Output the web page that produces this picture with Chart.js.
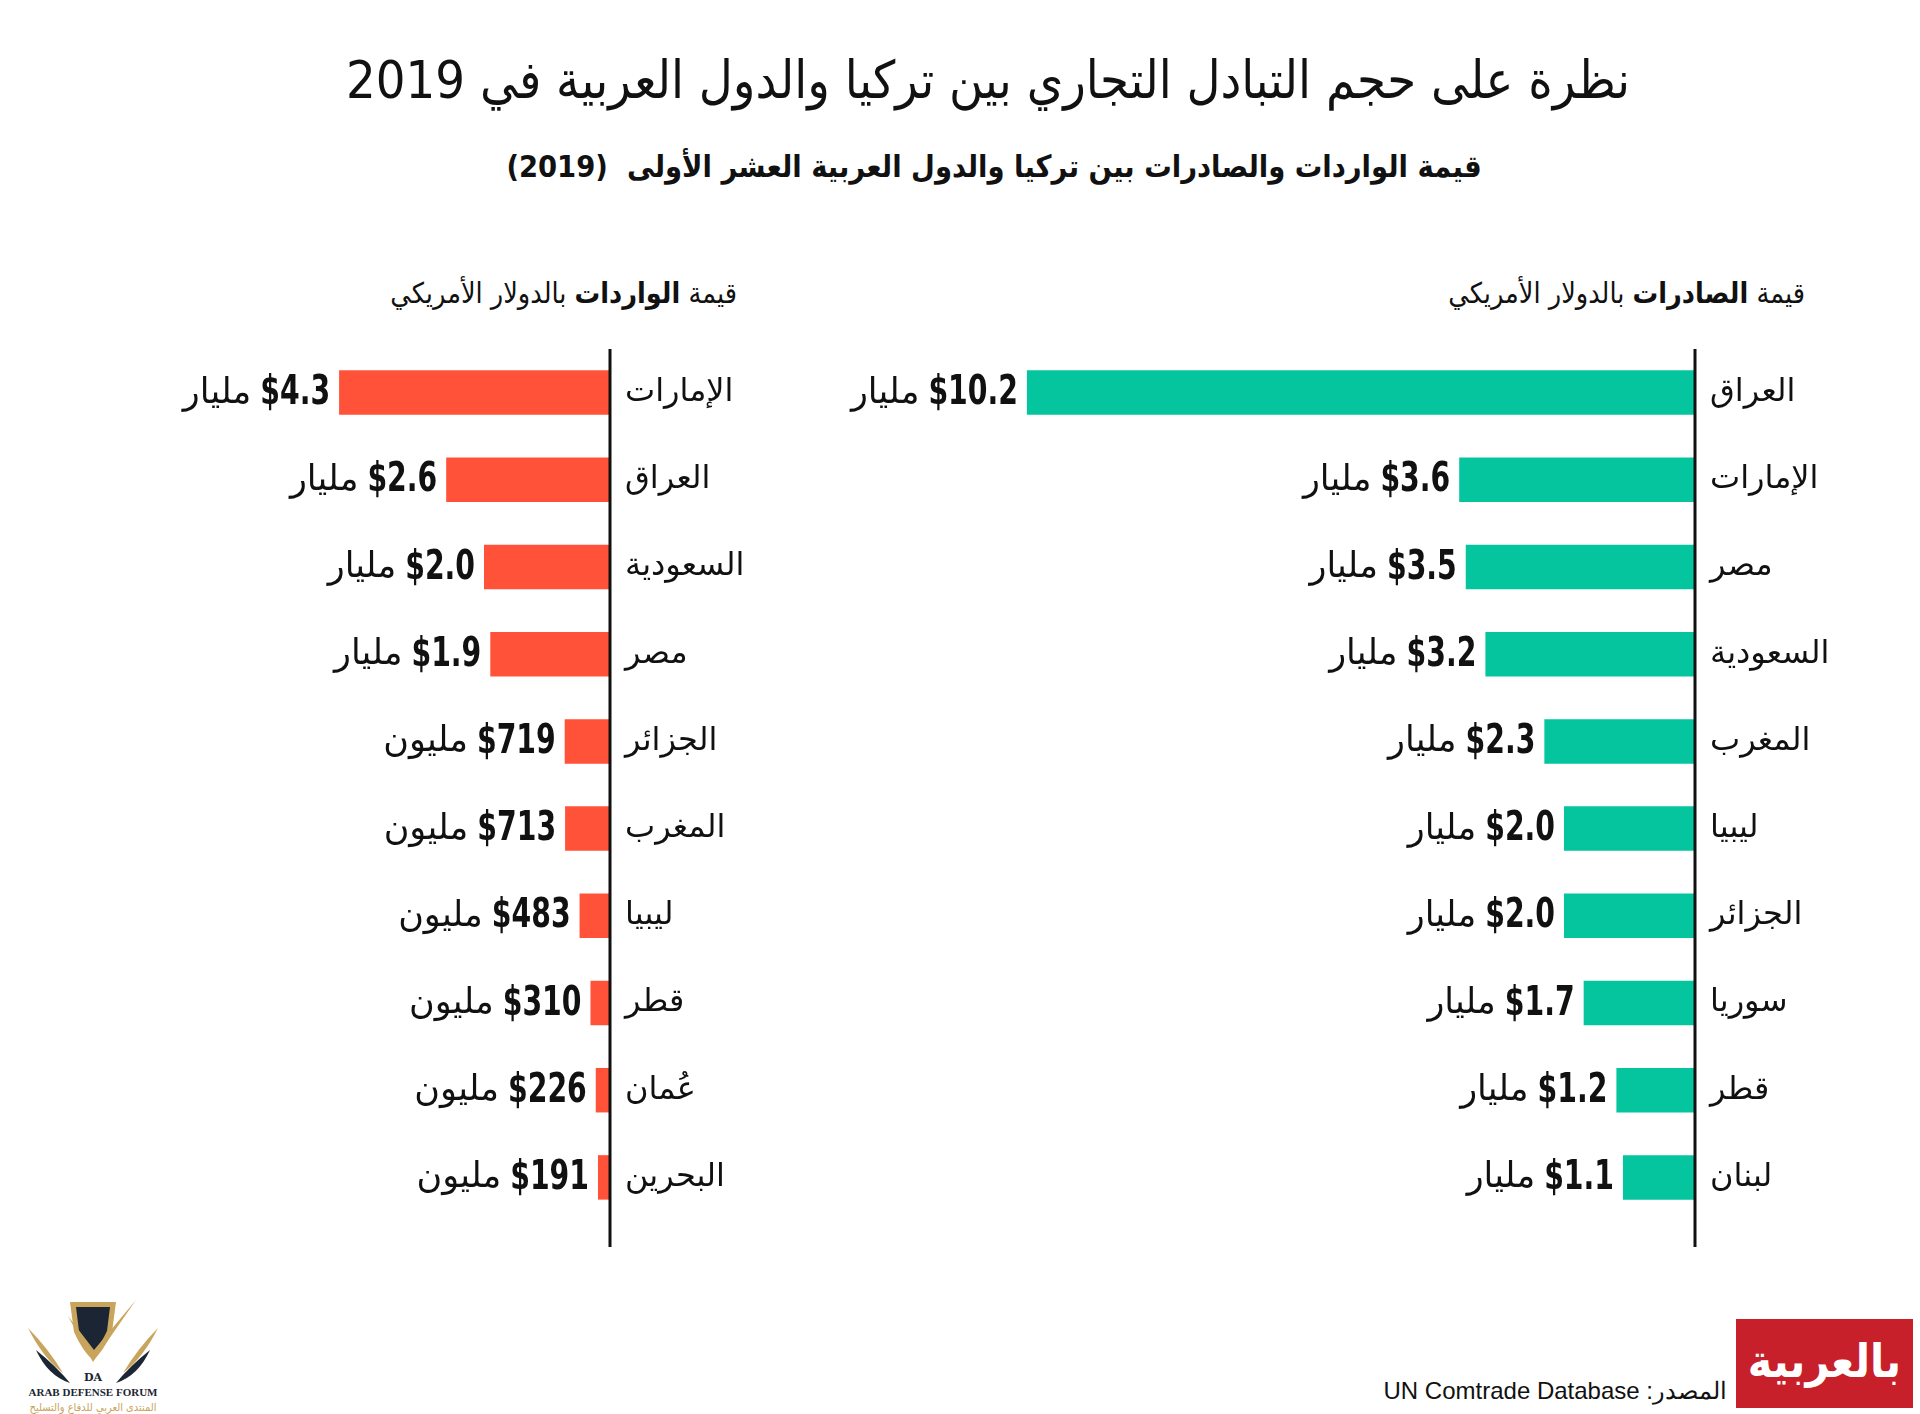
<!DOCTYPE html>
<html lang="ar">
<head>
<meta charset="utf-8">
<title>التبادل التجاري بين تركيا والدول العربية 2019</title>
<script src="https://cdn.jsdelivr.net/npm/chart.js@4.4.1/dist/chart.umd.min.js"></script>
<style>
  html, body { margin: 0; padding: 0; background: #fff; }
  body { width: 1920px; height: 1414px; position: relative; overflow: hidden;
         font-family: "DejaVu Sans", sans-serif; color: #111; }
  .abs { position: absolute; white-space: nowrap; }
  .title { left: 0; width: 1976px; top: 44px; height: 72px; line-height: 72px; text-align: center;
           font-family: "DejaVu Sans Condensed", "DejaVu Sans", sans-serif; font-size: 52px; }
  .subtitle { left: 0; width: 1988px; top: 147px; height: 40px; line-height: 40px; text-align: center;
              font-family: "DejaVu Sans Condensed", "DejaVu Sans", sans-serif; font-size: 30.5px; font-weight: bold; }
  .head { top: 276px; height: 36px; line-height: 36px; text-align: right;
          font-family: "DejaVu Sans Condensed", "DejaVu Sans", sans-serif; font-size: 28.5px; }
  .head b { font-weight: bold; }
  canvas { position: absolute; }
  .source { right: 193px; top: 1376px; height: 30px; line-height: 30px;
            font-family: "Liberation Sans", Arial, sans-serif; font-size: 24px; }
  .cnn { left: 1736px; top: 1319px; width: 177px; height: 89px; background: #c8202a;
         color: #fff; font-size: 46px; font-weight: bold; text-align: center; line-height: 84px;
         font-family: "DejaVu Sans Condensed", "DejaVu Sans", sans-serif; }
</style>
</head>
<body>

<div class="abs title" dir="rtl">نظرة على حجم التبادل التجاري بين تركيا والدول العربية في 2019</div>
<div class="abs subtitle" dir="rtl">قيمة الواردات والصادرات بين تركيا والدول العربية العشر الأولى&nbsp;&nbsp;(2019)</div>

<div class="abs head" dir="rtl" style="right: 1183px;">قيمة <b>الواردات</b> بالدولار الأمريكي</div>
<div class="abs head" dir="rtl" style="right: 115px;">قيمة <b>الصادرات</b> بالدولار الأمريكي</div>

<canvas id="importsChart" width="800" height="920" style="left:0; top:340px;"></canvas>
<canvas id="exportsChart" width="1120" height="920" style="left:800px; top:340px;"></canvas>

<svg class="abs" style="left:8px; top:1288px;" width="170" height="126" viewBox="0 0 170 126">
  <path d="M20 40 Q40 60 55 85 Q35 70 20 40 Z" fill="#c9a45c"/>
  <path d="M150 40 Q130 60 115 85 Q135 70 150 40 Z" fill="#c9a45c"/>
  <path d="M28 62 Q48 78 62 95 Q40 88 28 62 Z" fill="#1c2533"/>
  <path d="M142 62 Q122 78 108 95 Q130 88 142 62 Z" fill="#1c2533"/>
  <path d="M62 14 L108 14 L104 44 Q95 64 85 72 Q75 64 66 44 Z" fill="#c9a45c"/>
  <path d="M68 19 L102 19 L99 43 Q92 58 85 64 Q78 58 71 43 Z" fill="#1c2533"/>
  <path d="M60 28 L85 74 L128 12 L86 62 Z" fill="#c9a45c"/>
  <text x="85" y="93" text-anchor="middle" font-family="DejaVu Serif" font-weight="bold" font-size="11" fill="#1c2533">DA</text>
  <text x="85" y="108" text-anchor="middle" font-family="Liberation Serif" font-weight="bold" font-size="11" fill="#1c2533">ARAB DEFENSE FORUM</text>
  <text x="85" y="123" text-anchor="middle" font-family="DejaVu Sans Condensed" font-size="11" fill="#c9a45c" direction="rtl">المنتدى العربي للدفاع والتسليح</text>
</svg>

<div class="abs source" dir="rtl">المصدر: UN Comtrade Database</div>
<div class="abs cnn" dir="rtl">بالعربية</div>

<script>
// الواردات (مليار دولار)
const importCountries = ['الإمارات', 'العراق', 'السعودية', 'مصر', 'الجزائر', 'المغرب', 'ليبيا', 'قطر', 'عُمان', 'البحرين'];
const importValues = [4.3, 2.6, 2.0, 1.9, 0.719, 0.713, 0.483, 0.310, 0.226, 0.191];

// الصادرات (مليار دولار)
const exportCountries = ['العراق', 'الإمارات', 'مصر', 'السعودية', 'المغرب', 'ليبيا', 'الجزائر', 'سوريا', 'قطر', 'لبنان'];
const exportValues = [10.2, 3.6, 3.5, 3.2, 2.3, 2.0, 2.0, 1.7, 1.2, 1.1];

const BILLION = 'مليار';
const MILLION = 'مليون';

const arabicFont = '"DejaVu Sans", sans-serif';
const numberFont = '"DejaVu Sans", sans-serif';
const NUMBER_SQUEEZE = 0.69; // أرقام ضيقة كما في الأصل

// نص القيمة: مليار أو مليون
function formatValue(v) {
  if (v >= 1) return { num: '$' + v.toFixed(1), unit: BILLION };
  return { num: '$' + Math.round(v * 1000), unit: MILLION };
}

// خط المحور وقيم الأعمدة
const barLabelsPlugin = {
  id: 'barLabels',
  afterDatasetsDraw(chart) {
    const ctx = chart.ctx;
    const area = chart.chartArea;
    const meta = chart.getDatasetMeta(0);
    const values = chart.data.datasets[0].data;

    ctx.save();
    ctx.strokeStyle = '#111';
    ctx.lineWidth = 3;
    ctx.beginPath();
    ctx.moveTo(area.right, area.top);
    ctx.lineTo(area.right, area.bottom + 26);
    ctx.stroke();

    ctx.textBaseline = 'middle';
    ctx.textAlign = 'right';
    ctx.fillStyle = '#111';
    meta.data.forEach((bar, i) => {
      const f = formatValue(values[i]);
      const x = bar.x - 9;
      ctx.font = 'bold 41px ' + numberFont;
      const w = ctx.measureText(f.num).width * NUMBER_SQUEEZE;
      ctx.save();
      ctx.translate(x, bar.y + 1);
      ctx.scale(NUMBER_SQUEEZE, 1);
      ctx.fillText(f.num, 0, 0);
      ctx.restore();
      ctx.font = '35px ' + arabicFont;
      ctx.fillText(f.unit, x - w - 9, bar.y + 1);
    });
    ctx.restore();
  }
};

function makeChart(id, labels, values, color, maxValue, axisWidth) {
  return new Chart(document.getElementById(id), {
    type: 'bar',
    data: {
      labels: labels,
      datasets: [{
        data: values,
        backgroundColor: color,
        borderWidth: 0,
        barPercentage: 0.51,
        categoryPercentage: 1
      }]
    },
    options: {
      indexAxis: 'y',
      responsive: false,
      animation: false,
      devicePixelRatio: 1,
      layout: { padding: { top: 9, bottom: 39, left: 0, right: 0 } },
      plugins: {
        legend: { display: false },
        tooltip: { enabled: false }
      },
      scales: {
        x: {
          display: false,
          min: 0,
          max: maxValue,
          reverse: true
        },
        y: {
          position: 'right',
          grid: { display: false, drawTicks: false },
          border: { display: false },
          ticks: {
            color: '#111',
            padding: 15,
            font: { family: arabicFont, size: 32 }
          },
          afterFit(scale) {
            scale.width = axisWidth;
            scale.paddingTop = 0;
            scale.paddingBottom = 0;
          }
        }
      }
    },
    plugins: [barLabelsPlugin]
  });
}

makeChart('importsChart', importCountries, importValues, '#ff5239', 610 / 63, 190);
makeChart('exportsChart', exportCountries, exportValues, '#05c59f', 895 / 65.5, 225);
</script>
</body>
</html>
